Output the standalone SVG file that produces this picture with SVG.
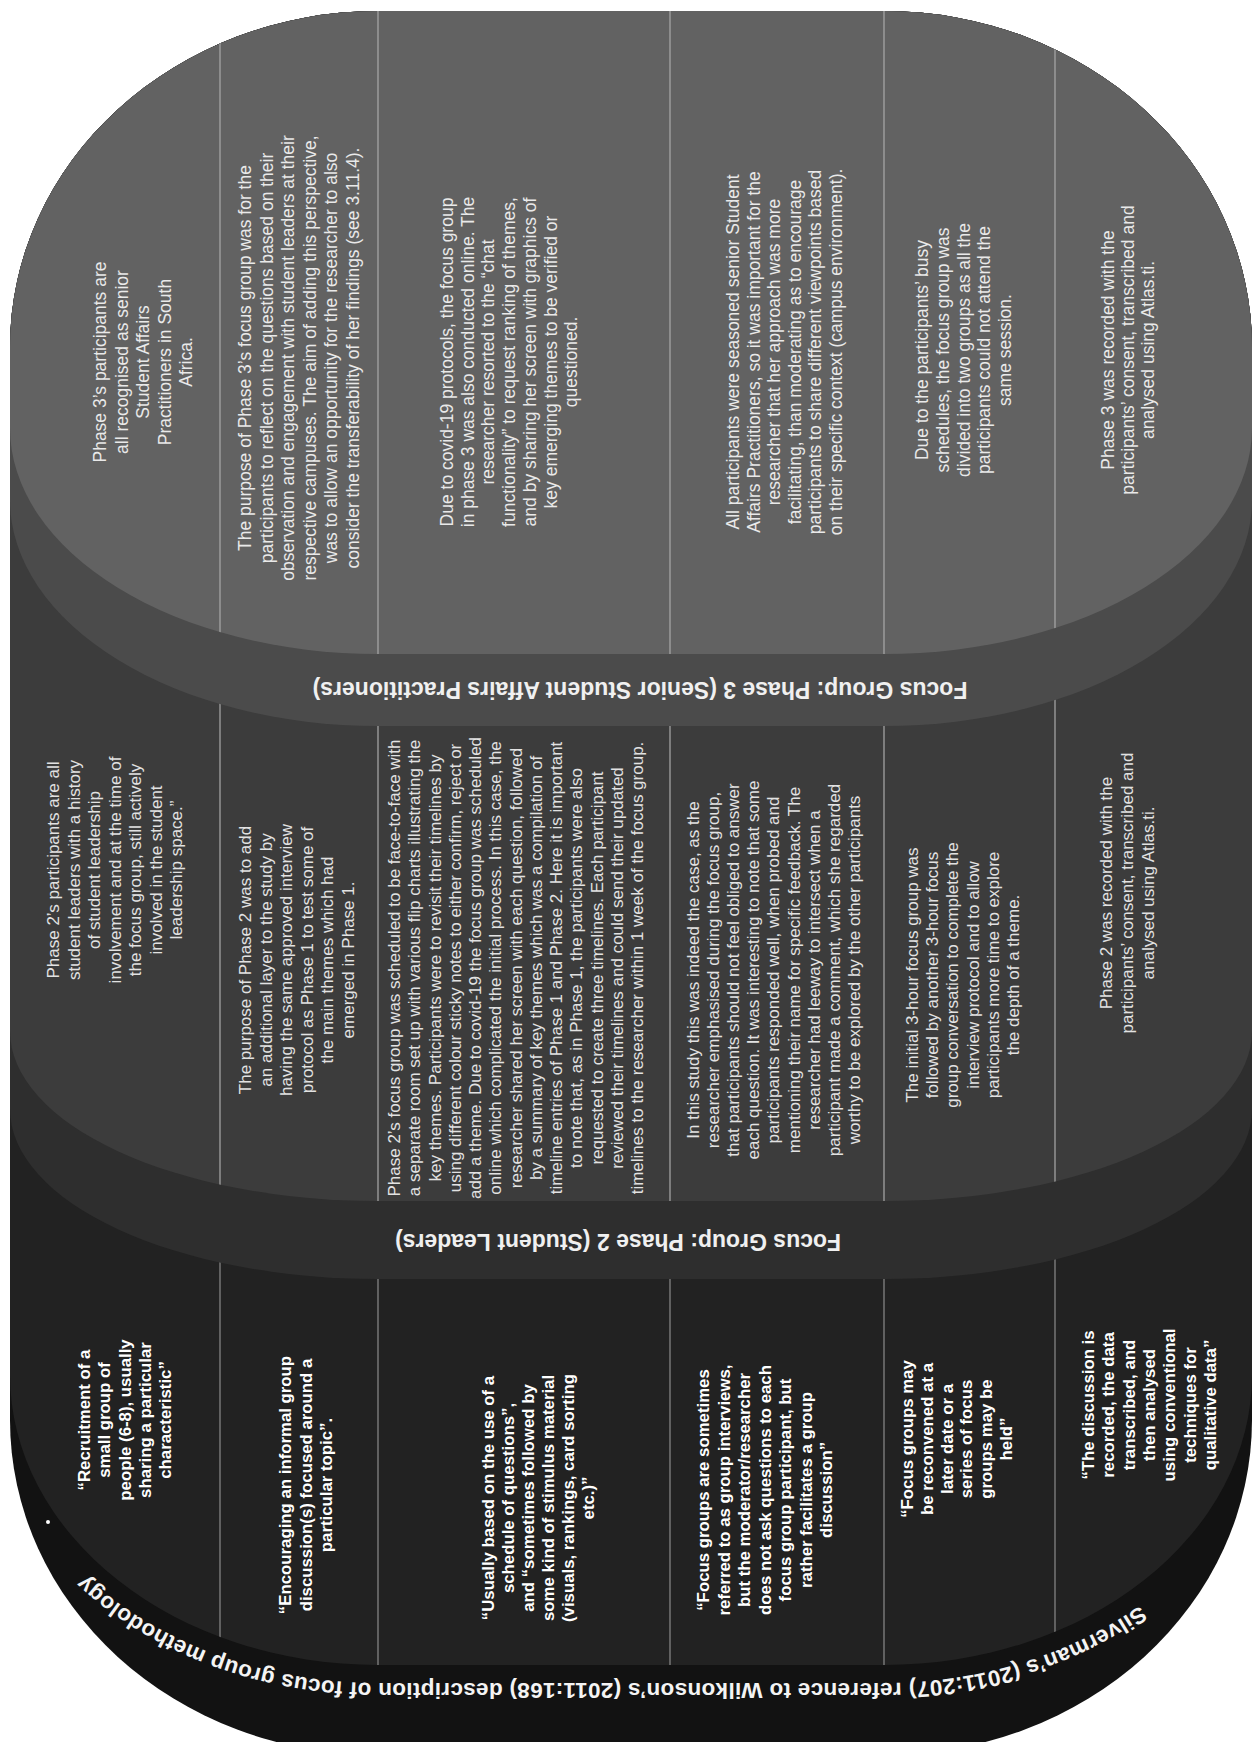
<svg xmlns="http://www.w3.org/2000/svg" width="1252" height="1742" viewBox="0 0 1252 1742">
  <style>
    .txt { font-family: "Liberation Sans", Arial, sans-serif; text-anchor: middle; dominant-baseline: central; }
    .t3 { font-size: 17.5px; fill: #e9e9e9; }
    .t2 { font-size: 17px; fill: #e2e2e2; }
    .t1 { font-size: 16.8px; font-weight: bold; fill: #ffffff; }
    .hdr { font-family: "Liberation Sans", Arial, sans-serif; font-size: 23px; font-weight: bold; fill: #f0f0f0; text-anchor: middle; dominant-baseline: central; }
    .rim { font-family: "Liberation Sans", Arial, sans-serif; font-size: 22.5px; font-weight: bold; letter-spacing: 0.3px; fill: #f4f4f4; }
    .div { stroke: #aaaaaa; stroke-width: 1.2; fill: none; }
    .div1 { stroke: #8c8c8c; stroke-width: 1.2; fill: none; }
  </style>
  <defs>
    <!-- tier outlines: shared top, straight sides, elliptical bottom corners -->
    <path id="face1" d="M378,11 H884 A368 336 0 0 1 1252 347 V1375 A368 290 0 0 1 884 1665 H378 A368 290 0 0 1 10 1375 V347 A368 336 0 0 1 378 11 Z"/>
    <path id="face2" d="M378,11 H884 A368 336 0 0 1 1252 347 V1031 A368 170 0 0 1 884 1201 H378 A368 170 0 0 1 10 1031 V347 A368 336 0 0 1 378 11 Z"/>
    <path id="face3" d="M378,11 H884 A368 336 0 0 1 1252 347 V428 A368 226 0 0 1 884 654 H378 A368 226 0 0 1 10 428 V347 A368 336 0 0 1 378 11 Z"/>
    <clipPath id="clip1"><use href="#face1"/></clipPath>
    <clipPath id="clip2"><use href="#face2"/></clipPath>
    <clipPath id="clip3"><use href="#face3"/></clipPath>
    <path id="rimPath" d="M1270,1375 A386 308 0 0 1 884 1683 H378 A386 308 0 0 1 -8 1375"/>
  </defs>

  <rect x="0" y="0" width="1252" height="1742" fill="#ffffff"/>

  <!-- Tier 1: Silverman / Wilkinson description -->
  <g id="tier1">
    <path d="M378,11 H884 A368 336 0 0 1 1252 347 V1420 A368 335 0 0 1 884 1755 H378 A368 335 0 0 1 10 1420 V347 A368 336 0 0 1 378 11 Z" fill="#121212"/>
    <use href="#face1" fill="#222222"/>
    <g clip-path="url(#clip1)">
      <line class="div1" x1="220" y1="0" x2="220" y2="1742"/>
      <line class="div1" x1="378" y1="0" x2="378" y2="1742"/>
      <line class="div1" x1="670" y1="0" x2="670" y2="1742"/>
      <line class="div1" x1="884" y1="0" x2="884" y2="1742"/>
      <line class="div1" x1="1055" y1="0" x2="1055" y2="1742"/>
    </g>
    <text class="rim"><textPath href="#rimPath" startOffset="51.5%" text-anchor="middle">Silverman’s (2011:207) reference to Wilkonson’s (2011:168) description of focus group methodology</textPath></text>
    <circle cx="48" cy="1522" r="2" fill="#ffffff"/>
  </g>
  <g id="t1-recruitment" transform="translate(84,1420) rotate(-90)">
    <text class="txt t1"><tspan x="0" y="0">“Recruitment of a</tspan><tspan x="0" y="20.25">small group of</tspan><tspan x="0" y="40.5">people (6-8), usually</tspan><tspan x="0" y="60.75">sharing a particular</tspan><tspan x="0" y="81">characteristic”</tspan></text>
  </g>
  <g id="t1-encouraging" transform="translate(285,1485) rotate(-90)">
    <text class="txt t1"><tspan x="0" y="0">“Encouraging an informal group</tspan><tspan x="0" y="20.5">discussion(s) focused around a</tspan><tspan x="0" y="41">particular topic”.</tspan></text>
  </g>
  <g id="t1-schedule" transform="translate(488,1498) rotate(-90)">
    <text class="txt t1"><tspan x="0" y="0">“Usually based on the use of a</tspan><tspan x="0" y="20">schedule of questions”,</tspan><tspan x="0" y="40">and “sometimes followed by</tspan><tspan x="0" y="60">some kind of stimulus material</tspan><tspan x="0" y="80">(visuals, rankings, card sorting</tspan><tspan x="0" y="100">etc.)”</tspan></text>
  </g>
  <g id="t1-interviews" transform="translate(703,1490) rotate(-90)">
    <text class="txt t1"><tspan x="0" y="0">“Focus groups are sometimes</tspan><tspan x="0" y="20.5">referred to as group interviews,</tspan><tspan x="0" y="41">but the moderator/researcher</tspan><tspan x="0" y="61.5">does not ask questions to each</tspan><tspan x="0" y="82">focus group participant, but</tspan><tspan x="0" y="102.5">rather facilitates a group</tspan><tspan x="0" y="123">discussion”</tspan></text>
  </g>
  <g id="t1-reconvened" transform="translate(907,1439) rotate(-90)">
    <text class="txt t1"><tspan x="0" y="0">“Focus groups may</tspan><tspan x="0" y="19.8">be reconvened at a</tspan><tspan x="0" y="39.6">later date or a</tspan><tspan x="0" y="59.4">series of focus</tspan><tspan x="0" y="79.2">groups may be</tspan><tspan x="0" y="99">held”</tspan></text>
  </g>
  <g id="t1-recorded" transform="translate(1088,1405) rotate(-90)">
    <text class="txt t1"><tspan x="0" y="0">“The discussion is</tspan><tspan x="0" y="20.3">recorded, the data</tspan><tspan x="0" y="40.6">transcribed, and</tspan><tspan x="0" y="60.9">then analysed</tspan><tspan x="0" y="81.2">using conventional</tspan><tspan x="0" y="101.5">techniques for</tspan><tspan x="0" y="121.8">qualitative data”</tspan></text>
  </g>

  <!-- Tier 2: student leaders -->
  <g id="tier2">
    <path d="M378,11 H884 A368 336 0 0 1 1252 347 V1109 A368 170 0 0 1 884 1279 H378 A368 170 0 0 1 10 1109 V347 A368 336 0 0 1 378 11 Z" fill="#2e2e2e"/>
    <use href="#face2" fill="#3c3c3c"/>
    <g clip-path="url(#clip2)">
      <line class="div" x1="220" y1="0" x2="220" y2="1300"/>
      <line class="div" x1="378" y1="0" x2="378" y2="1300"/>
      <line class="div" x1="670" y1="0" x2="670" y2="1300"/>
      <line class="div" x1="884" y1="0" x2="884" y2="1300"/>
      <line class="div" x1="1055" y1="0" x2="1055" y2="1300"/>
    </g>
    <text class="hdr" transform="translate(618,1242) rotate(180)">Focus Group: Phase 2 (Student Leaders)</text>
  </g>
  <g id="t2-participants" transform="translate(53,870) rotate(-90)">
    <text class="txt t2"><tspan x="0" y="0">Phase 2’s participants are all</tspan><tspan x="0" y="20.5">student leaders with a history</tspan><tspan x="0" y="41">of student leadership</tspan><tspan x="0" y="61.5">involvement and at the time of</tspan><tspan x="0" y="82">the focus group, still actively</tspan><tspan x="0" y="102.5">involved in the student</tspan><tspan x="0" y="123">leadership space.”</tspan></text>
  </g>
  <g id="t2-purpose" transform="translate(245,960) rotate(-90)">
    <text class="txt t2"><tspan x="0" y="0">The purpose of Phase 2 was to add</tspan><tspan x="0" y="20.5">an additional layer to the study by</tspan><tspan x="0" y="41">having the same approved interview</tspan><tspan x="0" y="61.5">protocol as Phase 1 to test some of</tspan><tspan x="0" y="82">the main themes which had</tspan><tspan x="0" y="102.5">emerged in Phase 1.</tspan></text>
  </g>
  <g id="t2-schedule" transform="translate(394,968) rotate(-90)">
    <text class="txt t2"><tspan x="0" y="0">Phase 2’s focus group was scheduled to be face-to-face with</tspan><tspan x="0" y="20.25">a separate room set up with various flip charts illustrating the</tspan><tspan x="0" y="40.5">key themes. Participants were to revisit their timelines by</tspan><tspan x="0" y="60.75">using different colour sticky notes to either confirm, reject or</tspan><tspan x="0" y="81">add a theme. Due to covid-19 the focus group was scheduled</tspan><tspan x="0" y="101.25">online which complicated the initial process. In this case, the</tspan><tspan x="0" y="121.5">researcher shared her screen with each question, followed</tspan><tspan x="0" y="141.75">by a summary of key themes which was a compilation of</tspan><tspan x="0" y="162">timeline entries of Phase 1 and Phase 2. Here it is important</tspan><tspan x="0" y="182.25">to note that, as in Phase 1, the participants were also</tspan><tspan x="0" y="202.5">requested to create three timelines. Each participant</tspan><tspan x="0" y="222.75">reviewed their timelines and could send their updated</tspan><tspan x="0" y="243">timelines to the researcher within 1 week of the focus group.</tspan></text>
  </g>
  <g id="t2-moderation" transform="translate(693,970) rotate(-90)">
    <text class="txt t2"><tspan x="0" y="0">In this study this was indeed the case, as the</tspan><tspan x="0" y="20.1">researcher emphasised during the focus group,</tspan><tspan x="0" y="40.2">that participants should not feel obliged to answer</tspan><tspan x="0" y="60.3">each question. It was interesting to note that some</tspan><tspan x="0" y="80.4">participants responded well, when probed and</tspan><tspan x="0" y="100.5">mentioning their name for specific feedback. The</tspan><tspan x="0" y="120.6">researcher had leeway to intersect when a</tspan><tspan x="0" y="140.7">participant made a comment, which she regarded</tspan><tspan x="0" y="160.8">worthy to be explored by the other participants</tspan></text>
  </g>
  <g id="t2-sessions" transform="translate(912,975) rotate(-90)">
    <text class="txt t2"><tspan x="0" y="0">The initial 3-hour focus group was</tspan><tspan x="0" y="20.2">followed by another 3-hour focus</tspan><tspan x="0" y="40.4">group conversation to complete the</tspan><tspan x="0" y="60.6">interview protocol and to allow</tspan><tspan x="0" y="80.8">participants more time to explore</tspan><tspan x="0" y="101">the depth of a theme.</tspan></text>
  </g>
  <g id="t2-recorded" transform="translate(1106,893) rotate(-90)">
    <text class="txt t2"><tspan x="0" y="0">Phase 2 was recorded with the</tspan><tspan x="0" y="21">participants’ consent, transcribed and</tspan><tspan x="0" y="42">analysed using Atlas.ti.</tspan></text>
  </g>

  <!-- Tier 3: senior student affairs practitioners -->
  <g id="tier3">
    <path d="M378,11 H884 A368 336 0 0 1 1252 347 V500 A368 226 0 0 1 884 726 H378 A368 226 0 0 1 10 500 V347 A368 336 0 0 1 378 11 Z" fill="#4b4b4b"/>
    <use href="#face3" fill="#626262"/>
    <g clip-path="url(#clip3)">
      <line class="div" x1="220" y1="0" x2="220" y2="760"/>
      <line class="div" x1="378" y1="0" x2="378" y2="760"/>
      <line class="div" x1="670" y1="0" x2="670" y2="760"/>
      <line class="div" x1="884" y1="0" x2="884" y2="760"/>
      <line class="div" x1="1055" y1="0" x2="1055" y2="760"/>
    </g>
    <text class="hdr" transform="translate(640,690) rotate(180)">Focus Group: Phase 3 (Senior Student Affairs Practitioners)</text>
  </g>
  <g id="t3-participants" transform="translate(100,362) rotate(-90)">
    <text class="txt t3"><tspan x="0" y="0">Phase 3’s participants are</tspan><tspan x="0" y="21.5">all recognised as senior</tspan><tspan x="0" y="43">Student Affairs</tspan><tspan x="0" y="64.5">Practitioners in South</tspan><tspan x="0" y="86">Africa.</tspan></text>
  </g>
  <g id="t3-purpose" transform="translate(245,358) rotate(-90)">
    <text class="txt t3"><tspan x="0" y="0">The purpose of Phase 3’s focus group was for the</tspan><tspan x="0" y="21.6">participants to reflect on the questions based on their</tspan><tspan x="0" y="43.2">observation and engagement with student leaders at their</tspan><tspan x="0" y="64.8">respective campuses. The aim of adding this perspective,</tspan><tspan x="0" y="86.4">was to allow an opportunity for the researcher to also</tspan><tspan x="0" y="108">consider the transferability of her findings (see 3.11.4).</tspan></text>
  </g>
  <g id="t3-online" transform="translate(447,362) rotate(-90)">
    <text class="txt t3"><tspan x="0" y="0">Due to covid-19 protocols, the focus group</tspan><tspan x="0" y="20.7">in phase 3 was also conducted online. The</tspan><tspan x="0" y="41.4">researcher resorted to the “chat</tspan><tspan x="0" y="62.1">functionality” to request ranking of themes,</tspan><tspan x="0" y="82.8">and by sharing her screen with graphics of</tspan><tspan x="0" y="103.5">key emerging themes to be verified or</tspan><tspan x="0" y="124.2">questioned.</tspan></text>
  </g>
  <g id="t3-facilitating" transform="translate(733,352) rotate(-90)">
    <text class="txt t3"><tspan x="0" y="0">All participants were seasoned senior Student</tspan><tspan x="0" y="20.6">Affairs Practitioners, so it was important for the</tspan><tspan x="0" y="41.2">researcher that her approach was more</tspan><tspan x="0" y="61.8">facilitating, than moderating as to encourage</tspan><tspan x="0" y="82.4">participants to share different viewpoints based</tspan><tspan x="0" y="103">on their specific context (campus environment).</tspan></text>
  </g>
  <g id="t3-groups" transform="translate(922,350) rotate(-90)">
    <text class="txt t3"><tspan x="0" y="0">Due to the participants’ busy</tspan><tspan x="0" y="20.8">schedules, the focus group was</tspan><tspan x="0" y="41.6">divided into two groups as all the</tspan><tspan x="0" y="62.4">participants could not attend the</tspan><tspan x="0" y="83.2">same session.</tspan></text>
  </g>
  <g id="t3-recorded" transform="translate(1108,350) rotate(-90)">
    <text class="txt t3"><tspan x="0" y="0">Phase 3 was recorded with the</tspan><tspan x="0" y="20">participants’ consent, transcribed and</tspan><tspan x="0" y="40">analysed using Atlas.ti.</tspan></text>
  </g>
</svg>
